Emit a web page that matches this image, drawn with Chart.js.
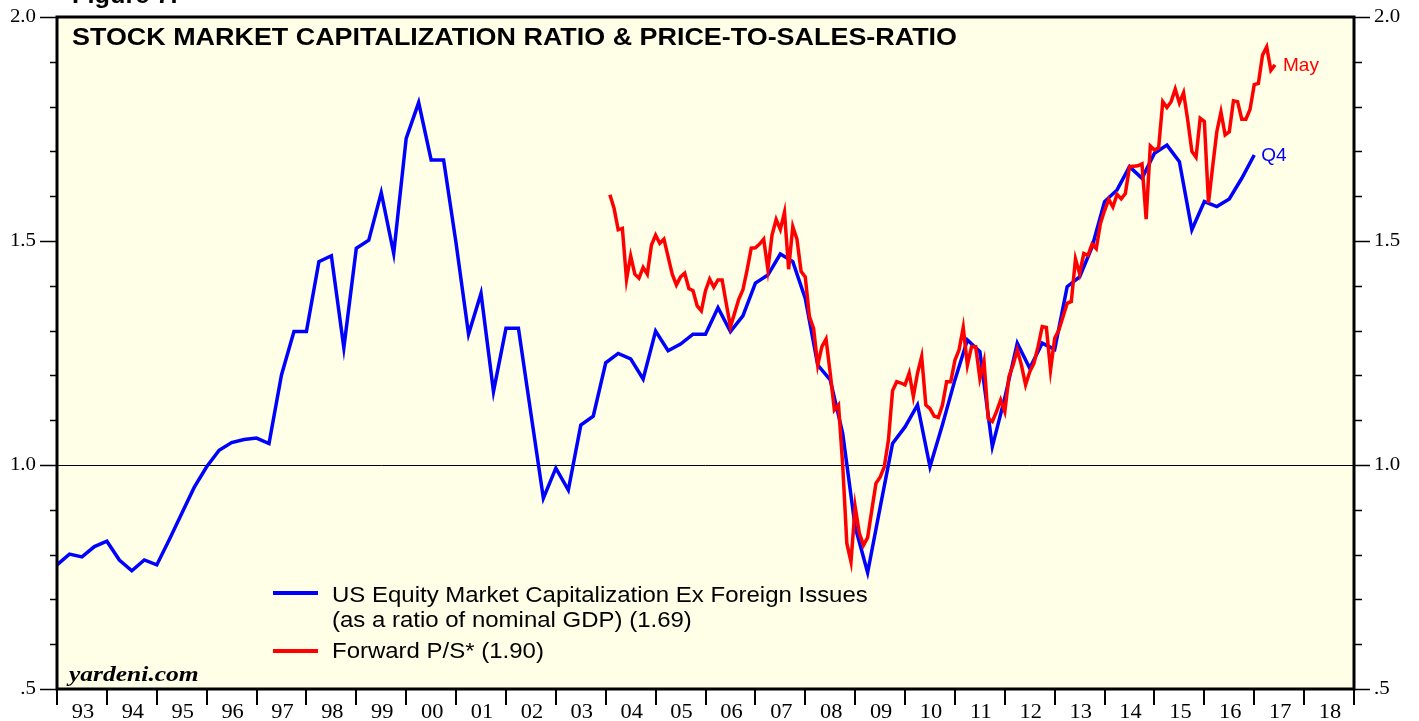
<!DOCTYPE html>
<html>
<head>
<meta charset="utf-8">
<script src="https://cdn.jsdelivr.net/npm/chart.js@4.4.1/dist/chart.umd.min.js"></script>
<style>
  html, body { margin: 0; padding: 0; background: #fff; }
  #wrap { width: 1419px; height: 721px; position: relative; }
</style>
</head>
<body>
<div id="wrap"><canvas id="chart"></canvas></div>
<script>
// x axis: one slot per year, labels sit between the year ticks
const firstYear = 1993;
const lastYear = 2019;
const yearLabels = ['93','94','95','96','97','98','99','00','01','02','03','04','05',
                    '06','07','08','09','10','11','12','13','14','15','16','17','18'];
const yTicks = [0.5, 1.0, 1.5, 2.0];
const yTickLabels = ['.5', '1.0', '1.5', '2.0'];

// US equity market cap ex foreign issues / nominal GDP, quarterly (Q4 1992 .. Q4 2016, plotted at quarter end)
const capStart = 1993;
const capValues = [
  0.777, 0.801, 0.795, 0.818, 0.830, 0.788, 0.764, 0.788, 0.777, 0.833,
  0.892, 0.950, 0.996, 1.033, 1.050, 1.057, 1.060, 1.048, 1.201, 1.298,
  1.298, 1.454, 1.467, 1.262, 1.484, 1.502, 1.608, 1.472, 1.729, 1.809,
  1.681, 1.681, 1.495, 1.292, 1.383, 1.164, 1.305, 1.305, 1.115, 0.926,
  0.993, 0.944, 1.089, 1.109, 1.228, 1.249, 1.237, 1.192, 1.299, 1.255,
  1.270, 1.292, 1.292, 1.351, 1.298, 1.333, 1.406, 1.424, 1.471, 1.454,
  1.372, 1.223, 1.190, 1.071, 0.862, 0.760, 0.905, 1.048, 1.085, 1.134,
  0.996, 1.090, 1.190, 1.279, 1.253, 1.041, 1.150, 1.272, 1.216, 1.272,
  1.258, 1.398, 1.420, 1.487, 1.588, 1.614, 1.666, 1.640, 1.696, 1.714,
  1.677, 1.525, 1.588, 1.577, 1.594, 1.640, 1.692
];

// S&P 500 forward price-to-sales, monthly (Jan 2004 .. May 2017, plotted at month end)
const psStart = 2004 + 1 / 12;
const psValues = [
  1.603, 1.573, 1.525, 1.528, 1.414, 1.467, 1.426, 1.417, 1.441, 1.426,
  1.491, 1.513, 1.495, 1.504, 1.465, 1.426, 1.402, 1.420, 1.428, 1.394,
  1.389, 1.355, 1.344, 1.389, 1.415, 1.397, 1.413, 1.413, 1.360, 1.309,
  1.339, 1.370, 1.391, 1.435, 1.484, 1.485, 1.493, 1.504, 1.437, 1.513,
  1.548, 1.526, 1.564, 1.437, 1.532, 1.504, 1.432, 1.420, 1.331, 1.305,
  1.223, 1.264, 1.281, 1.205, 1.123, 1.134, 1.000, 0.825, 0.784, 0.907,
  0.848, 0.821, 0.838, 0.899, 0.959, 0.973, 0.996, 1.055, 1.166, 1.186,
  1.183, 1.179, 1.205, 1.153, 1.205, 1.242, 1.134, 1.126, 1.109, 1.106,
  1.134, 1.186, 1.186, 1.234, 1.257, 1.307, 1.223, 1.264, 1.264, 1.193,
  1.231, 1.104, 1.097, 1.119, 1.145, 1.119, 1.197, 1.223, 1.257, 1.223,
  1.179, 1.208, 1.227, 1.264, 1.309, 1.307, 1.212, 1.283, 1.301, 1.331,
  1.361, 1.365, 1.460, 1.427, 1.472, 1.468, 1.493, 1.483, 1.539, 1.568,
  1.593, 1.576, 1.604, 1.594, 1.606, 1.666, 1.667, 1.668, 1.672, 1.549,
  1.712, 1.703, 1.708, 1.811, 1.798, 1.811, 1.839, 1.808, 1.831, 1.770,
  1.700, 1.687, 1.774, 1.767, 1.585, 1.666, 1.744, 1.788, 1.737, 1.744,
  1.813, 1.811, 1.772, 1.772, 1.794, 1.849, 1.852, 1.915, 1.933, 1.881,
  1.893
];

const capPoints = capValues.map((v, i) => ({ x: capStart + i / 4, y: v }));
const psPoints = psValues.map((v, i) => ({ x: psStart + i / 12, y: v }));

const BLUE = '#0000ff';
const RED = '#ff0000';
const SANS = '"Liberation Sans", Arial, Helvetica, sans-serif';
const SERIF = '"Liberation Serif", "Times New Roman", serif';

// the original lettering is a bit wider than Liberation, so stretch it sideways
function wideText(ctx, text, x, y, stretch) {
  ctx.save();
  ctx.translate(x, y);
  ctx.scale(stretch, 1);
  ctx.fillText(text, 0, 0);
  ctx.restore();
}

// draws the frame, ticks, labels, title and legend around the chart area
const framePlugin = {
  id: 'frame',
  beforeDraw(chart) {
    const ctx = chart.ctx;
    const a = chart.chartArea;
    const ys = chart.scales.y;
    ctx.save();
    ctx.fillStyle = '#ffffff';
    ctx.fillRect(0, 0, chart.width, chart.height);
    ctx.fillStyle = '#fffee6';
    ctx.fillRect(a.left, a.top, a.right - a.left, a.bottom - a.top);
    // reference line at 1.0
    const y1 = Math.round(ys.getPixelForValue(1.0)) + 0.5;
    ctx.strokeStyle = '#000';
    ctx.lineWidth = 1;
    ctx.beginPath();
    ctx.moveTo(a.left, y1);
    ctx.lineTo(a.right, y1);
    ctx.stroke();
    ctx.restore();
  },
  afterDatasetsDraw(chart) {
    const ctx = chart.ctx;
    const a = chart.chartArea;
    const xs = chart.scales.x;
    const ys = chart.scales.y;
    ctx.save();

    // border
    ctx.strokeStyle = '#000';
    ctx.lineWidth = 3;
    ctx.strokeRect(a.left, a.top, a.right - a.left, a.bottom - a.top);

    // y ticks (every 0.1, long ones at the labels)
    ctx.lineWidth = 1.5;
    for (let t = 5; t <= 20; t++) {
      const y = Math.round(ys.getPixelForValue(t / 10)) + 0.5;
      const major = t % 5 === 0;
      ctx.beginPath();
      ctx.moveTo(a.left - (major ? 17 : 7), y);
      ctx.lineTo(a.left, y);
      ctx.moveTo(a.right, y);
      ctx.lineTo(a.right + (major ? 16 : 8), y);
      ctx.stroke();
    }
    ctx.fillStyle = '#000';
    ctx.font = '19px ' + SERIF;
    ctx.textBaseline = 'middle';
    yTicks.forEach((v, i) => {
      const y = ys.getPixelForValue(v);
      const w = ctx.measureText(yTickLabels[i]).width * 1.1;
      ctx.textAlign = 'left';
      wideText(ctx, yTickLabels[i], a.left - 21 - w, y, 1.1);
      wideText(ctx, yTickLabels[i], a.right + 20, y, 1.1);
    });

    // x ticks at year boundaries, labels centred in each year
    ctx.lineWidth = 2;
    for (let yr = firstYear; yr <= lastYear; yr++) {
      const x = Math.round(xs.getPixelForValue(yr));
      ctx.beginPath();
      ctx.moveTo(x, a.bottom);
      ctx.lineTo(x, a.bottom + 16);
      ctx.stroke();
    }
    ctx.font = '20px ' + SERIF;
    ctx.textAlign = 'center';
    ctx.textBaseline = 'alphabetic';
    yearLabels.forEach((lab, i) => {
      wideText(ctx, lab, xs.getPixelForValue(firstYear + i + 0.5) + 1, a.bottom + 29, 1.12);
    });

    // title and figure caption
    ctx.textAlign = 'left';
    ctx.font = 'bold 23px ' + SANS;
    wideText(ctx, 'Figure 7.', 72, 3, 1.1);
    wideText(ctx, 'STOCK MARKET CAPITALIZATION RATIO & PRICE-TO-SALES-RATIO', 72, 45, 1.17);

    // legend
    ctx.lineWidth = 4;
    ctx.strokeStyle = BLUE;
    ctx.beginPath(); ctx.moveTo(273, 593); ctx.lineTo(318, 593); ctx.stroke();
    ctx.strokeStyle = RED;
    ctx.beginPath(); ctx.moveTo(273, 651); ctx.lineTo(318, 651); ctx.stroke();
    ctx.fillStyle = '#000';
    ctx.font = '22px ' + SANS;
    wideText(ctx, 'US Equity Market Capitalization Ex Foreign Issues', 332, 602, 1.09);
    wideText(ctx, '(as a ratio of nominal GDP) (1.69)', 332, 627, 1.09);
    wideText(ctx, 'Forward P/S* (1.90)', 332, 658, 1.09);

    // end-of-line notes
    ctx.font = '19px ' + SANS;
    ctx.textBaseline = 'middle';
    const lastCap = capPoints[capPoints.length - 1];
    const lastPs = psPoints[psPoints.length - 1];
    ctx.fillStyle = BLUE;
    ctx.fillText('Q4', xs.getPixelForValue(lastCap.x) + 7, ys.getPixelForValue(lastCap.y) + 1);
    ctx.fillStyle = RED;
    ctx.fillText('May', xs.getPixelForValue(lastPs.x) + 8, ys.getPixelForValue(lastPs.y) + 1);

    // source
    ctx.fillStyle = '#000';
    ctx.font = 'italic bold 22px ' + SERIF;
    ctx.textBaseline = 'alphabetic';
    wideText(ctx, 'yardeni.com', 69, 681, 1.16);

    ctx.restore();
  }
};

new Chart(document.getElementById('chart'), {
  type: 'line',
  data: {
    datasets: [
      {
        label: 'US Equity Market Capitalization Ex Foreign Issues',
        data: capPoints,
        borderColor: BLUE,
        borderWidth: 3.5,
        pointRadius: 0,
        tension: 0,
        order: 1
      },
      {
        label: 'Forward P/S*',
        data: psPoints,
        borderColor: RED,
        borderWidth: 3.5,
        pointRadius: 0,
        tension: 0,
        order: 0
      }
    ]
  },
  options: {
    responsive: true,
    maintainAspectRatio: false,
    animation: false,
    layout: { padding: { left: 57, right: 65, top: 17, bottom: 32 } },
    scales: {
      x: { type: 'linear', min: firstYear, max: lastYear, display: false },
      y: { min: 0.5, max: 2.0, display: false }
    },
    plugins: {
      legend: { display: false },
      tooltip: { enabled: false }
    }
  },
  plugins: [framePlugin]
});
</script>
</body>
</html>
